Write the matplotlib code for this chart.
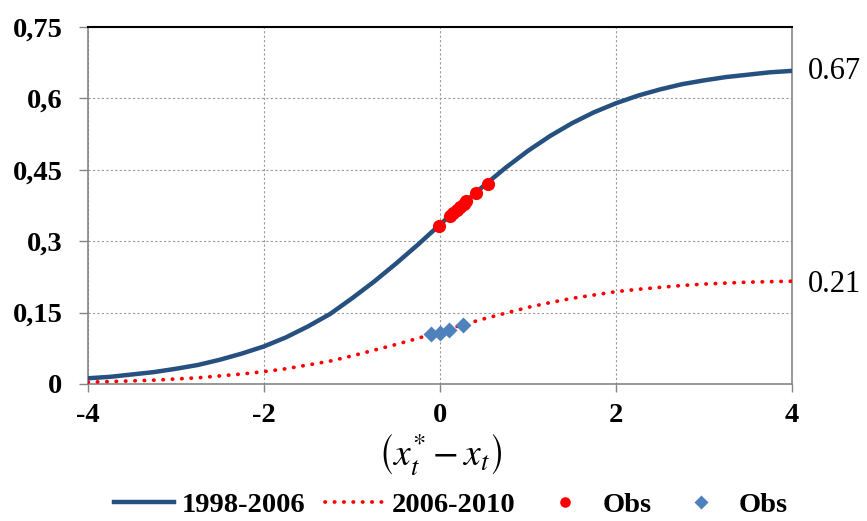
import matplotlib
matplotlib.use("Agg")
import matplotlib.pyplot as plt

plt.rcParams['font.family'] = ['Liberation Serif', 'DejaVu Serif']
plt.rcParams['mathtext.fontset'] = 'stix'

# x positions of the read-off curve points
gap_x = [-4.0, -3.75, -3.5, -3.25, -3.0, -2.75, -2.5, -2.25, -2.0, -1.75, -1.5,
         -1.25, -1.0, -0.75, -0.5, -0.25, 0.0, 0.25, 0.5, 0.75, 1.0, 1.25, 1.5,
         1.75, 2.0, 2.25, 2.5, 2.75, 3.0, 3.25, 3.5, 3.75, 4.0]
# 1998-2006 curve (solid blue)
curve_9806 = [0.012, 0.015, 0.020, 0.025, 0.032, 0.040, 0.051, 0.064, 0.079,
              0.098, 0.121, 0.147, 0.180, 0.215, 0.253, 0.293, 0.335, 0.377,
              0.417, 0.455, 0.490, 0.521, 0.548, 0.571, 0.590, 0.606, 0.619,
              0.630, 0.638, 0.645, 0.650, 0.655, 0.658]
# 2006-2010 curve (dotted red)
curve_0610 = [0.004, 0.005, 0.0065, 0.008, 0.0105, 0.013, 0.017, 0.021, 0.026,
              0.032, 0.040, 0.048, 0.059, 0.071, 0.083, 0.096, 0.110, 0.124,
              0.137, 0.149, 0.161, 0.171, 0.180, 0.187, 0.194, 0.199, 0.203,
              0.207, 0.210, 0.212, 0.214, 0.215, 0.216]

# observations
obs1_x = [-0.01, 0.11, 0.15, 0.19, 0.23, 0.27, 0.30, 0.41, 0.54]
obs1_y = [0.333, 0.352, 0.359, 0.366, 0.372, 0.379, 0.384, 0.402, 0.421]
obs2_x = [-0.10, 0.0, 0.106, 0.265]
obs2_y = [0.104, 0.108, 0.113, 0.124]

y_ticks = [0, 0.15, 0.3, 0.45, 0.6, 0.75]
y_labels = ['0', '0,15', '0,3', '0,45', '0,6', '0,75']
x_ticks = [-4, -2, 0, 2, 4]
x_labels = ['-4', '-2', '0', '2', '4']

fig = plt.figure(figsize=(8.67, 5.21), dpi=100)
ax = fig.add_axes([0.1015, 0.263, 0.812, 0.685])

blue = '#26507f'
ax.plot(gap_x, curve_9806, color=blue, lw=3.2, label='1998-2006', zorder=3)
ax.plot(gap_x, curve_0610, color='#ff0000', lw=2.7, linestyle=(0, (0.1, 2.4)),
        dash_capstyle='round', label='2006-2010', zorder=3)
ax.plot(obs1_x, obs1_y, 'o', color='#ff0000', ms=9.5, mec='none', label='Obs', zorder=4)
ax.plot(obs2_x, obs2_y, 'D', color='#4f81bd', ms=8.5, mec='none', label='Obs', zorder=4)

ax.set_xlim(-4, 4)
ax.set_ylim(0, 0.75)
ax.set_xticks(x_ticks)
ax.set_xticklabels(x_labels, fontsize=20.5, fontweight='bold')
ax.set_yticks(y_ticks)
ax.set_yticklabels(y_labels, fontsize=20.5, fontweight='bold')
ax.tick_params(axis='y', length=6.5, width=1, color='#868686', pad=12)
ax.tick_params(axis='x', length=6, width=1, color='#868686', pad=8)

ax.grid(True, color='#9a9a9a', lw=0.8, linestyle=(0, (2, 2)))
for side in ['left', 'right', 'bottom']:
    ax.spines[side].set_color('#868686')
    ax.spines[side].set_linewidth(1.2)
ax.spines['top'].set_color('black')
ax.spines['top'].set_linewidth(1.5)

ax.text(4.18, 0.657, '0.67', fontsize=22, va='center', ha='left', clip_on=False)
ax.text(4.18, 0.21, '0.21', fontsize=22, va='center', ha='left', clip_on=False)

fig.text(0.5075, 0.128, r'$\left(x_t^{*}-x_t\right)$', fontsize=27, ha='center', va='center')

leg = fig.legend(loc='center', bbox_to_anchor=(0.52, 0.031), ncol=4, frameon=False,
                 prop={'size': 20.5, 'weight': 'bold'}, handlelength=2.1,
                 markerscale=0.8, columnspacing=0.7, handletextpad=0.25,
                 borderpad=0.1)

fig.savefig('out.png', dpi=100)
